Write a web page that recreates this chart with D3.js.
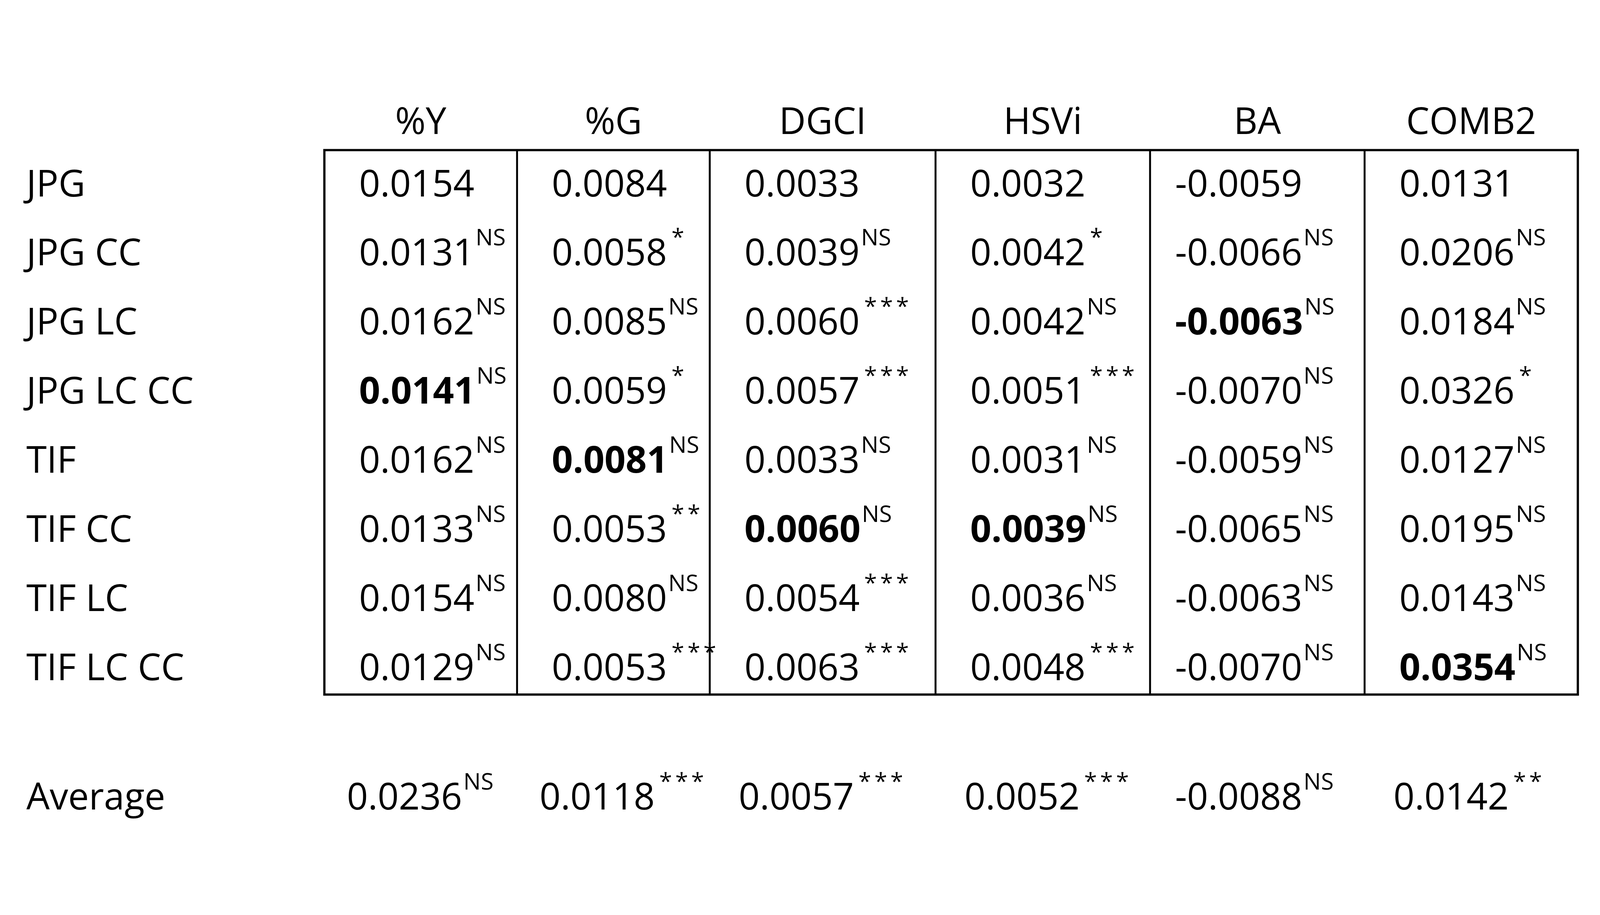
<!DOCTYPE html>
<html>
<head>
<meta charset="utf-8">
<script src="https://cdn.jsdelivr.net/npm/d3@7"></script>
<style>
  html, body { margin: 0; padding: 0; background: #fff; overflow: hidden; }
  #chart svg { display: block; width: 100vw; height: 100vh; }
  text { font-family: "Open Sans", sans-serif; fill: #000; }
</style>
</head>
<body>
<div id="chart"></div>
<script>
// table data
const columns = ['%Y', '%G', 'DGCI', 'HSVi', 'BA', 'COMB2'];
const rows = ['JPG', 'JPG CC', 'JPG LC', 'JPG LC CC', 'TIF', 'TIF CC', 'TIF LC', 'TIF LC CC'];

const values = [
  ['0.0154', '0.0084', '0.0033', '0.0032', '-0.0059', '0.0131'],
  ['0.0131', '0.0058', '0.0039', '0.0042', '-0.0066', '0.0206'],
  ['0.0162', '0.0085', '0.0060', '0.0042', '-0.0063', '0.0184'],
  ['0.0141', '0.0059', '0.0057', '0.0051', '-0.0070', '0.0326'],
  ['0.0162', '0.0081', '0.0033', '0.0031', '-0.0059', '0.0127'],
  ['0.0133', '0.0053', '0.0060', '0.0039', '-0.0065', '0.0195'],
  ['0.0154', '0.0080', '0.0054', '0.0036', '-0.0063', '0.0143'],
  ['0.0129', '0.0053', '0.0063', '0.0048', '-0.0070', '0.0354']
];

const signif = [
  ['', '', '', '', '', ''],
  ['NS', '*', 'NS', '*', 'NS', 'NS'],
  ['NS', 'NS', '***', 'NS', 'NS', 'NS'],
  ['NS', '*', '***', '***', 'NS', '*'],
  ['NS', 'NS', 'NS', 'NS', 'NS', 'NS'],
  ['NS', '**', 'NS', 'NS', 'NS', 'NS'],
  ['NS', 'NS', '***', 'NS', 'NS', 'NS'],
  ['NS', '***', '***', '***', 'NS', 'NS']
];

// which cells are bold (row, col)
const boldCells = [[3, 0], [4, 1], [5, 2], [5, 3], [2, 4], [7, 5]];

const avgLabel = 'Average';
const avgValues = ['0.0236', '0.0118', '0.0057', '0.0052', '-0.0088', '0.0142'];
const avgSignif = ['NS', '***', '***', '***', 'NS', '**'];

// layout
const W = 4982, H = 2342;
const colWeights = [600, 600, 703, 668, 668, 664];
const tableLeft = 1010, tableTop = 214, tableBottom = 1909;
const fontSize = 115, supSize = 72;

// viewBox so the whole table fits the window whatever its css size
const svg = d3.select('#chart').append('svg')
  .attr('viewBox', `0 0 ${W} ${H}`)
  .attr('preserveAspectRatio', 'xMidYMid meet');

// column edges from a cumulative scale
const cum = [0];
colWeights.forEach(w => cum.push(cum[cum.length - 1] + w));
const x = d3.scaleLinear().domain([0, cum[cum.length - 1]]).range([tableLeft, tableLeft + 3903]);
const colL = i => x(cum[i]);
const colR = i => x(cum[i + 1]);

const y = d3.scalePoint().domain(rows).range([358, 1864]);

// headers
svg.selectAll('.hdr').data(columns).enter().append('text')
  .attr('x', (d, i) => (colL(i) + colR(i)) / 2)
  .attr('y', 164)
  .attr('text-anchor', 'middle')
  .attr('font-size', fontSize)
  .text(d => d);

// row labels
svg.selectAll('.rl').data(rows).enter().append('text')
  .attr('x', 82).attr('y', d => y(d))
  .attr('font-size', fontSize)
  .text(d => d);

const isBold = (r, c) => boldCells.some(b => b[0] === r && b[1] === c);

function cell(g, val, sig, xx, yy, bold) {
  const t = g.append('text').attr('x', xx).attr('y', yy).attr('font-size', fontSize);
  t.append('tspan').attr('font-weight', bold ? 700 : 400).text(val);
  if (sig) {
    t.append('tspan')
      .attr('font-size', supSize)
      .attr('dx', sig === 'NS' ? 4 : 14)
      .attr('dy', -62)
      .attr('letter-spacing', sig === 'NS' ? 0 : 10)
      .text(sig);
  }
}

const body = svg.append('g');
values.forEach((row, r) => {
  row.forEach((v, c) => {
    const pad = v.startsWith('-') ? 78 : 108;
    cell(body, v, signif[r][c], colL(c) + pad, y(rows[r]), isBold(r, c));
  });
});

// average row
svg.append('text').attr('x', 82).attr('y', 2267).attr('font-size', fontSize).text(avgLabel);
avgValues.forEach((v, c) => {
  const pad = v.startsWith('-') ? 78 : 90;
  cell(svg, v, avgSignif[c], colL(c) + pad - (c < 2 ? 20 : 0), 2267, false);
});

// grid lines
const lines = svg.append('g').attr('stroke', '#000');
lines.append('rect')
  .attr('x', colL(0)).attr('y', tableTop)
  .attr('width', colR(columns.length - 1) - colL(0))
  .attr('height', tableBottom - tableTop)
  .attr('fill', 'none').attr('stroke-width', 7);
lines.selectAll('.vl').data(d3.range(1, columns.length)).enter().append('line')
  .attr('x1', d => colL(d)).attr('x2', d => colL(d))
  .attr('y1', tableTop).attr('y2', tableBottom)
  .attr('stroke-width', 6);
</script>
</body>
</html>
